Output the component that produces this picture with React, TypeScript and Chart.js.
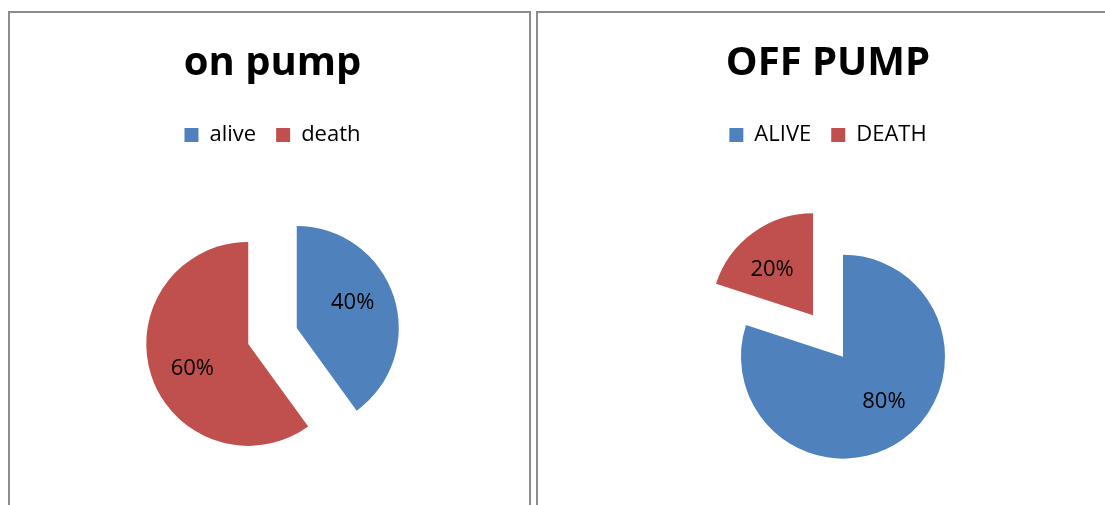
import React, { useEffect, useRef } from "react";
import { Chart, registerables } from "chart.js";

Chart.register(...registerables);

// Data
const onPumpLabels = ["alive", "death"];
const onPumpValues = [40, 60];
const offPumpLabels = ["ALIVE", "DEATH"];
const offPumpValues = [80, 20];
const sliceColors = ["#4F81BD", "#C0504D"];

const FONT = "'Open Sans', 'Noto Sans', sans-serif";
const RADIUS = 102;
const EXPLODE = 25.5; // distance each slice is pulled out of the pie

// Draws every slice pushed outward along its bisector by the same distance.
const explodedSlices = {
  id: "explodedSlices",
  beforeDatasetDraw(chart: any, args: any) {
    const { ctx } = chart;
    args.meta.data.forEach((arc: any) => {
      const mid = (arc.startAngle + arc.endAngle) / 2;
      ctx.save();
      ctx.translate(Math.cos(mid) * EXPLODE, Math.sin(mid) * EXPLODE);
      arc.draw(ctx, chart.chartArea);
      ctx.restore();
    });
    return false;
  },
};

// Percentage text inside each slice.
const percentLabels = {
  id: "percentLabels",
  afterDatasetsDraw(chart: any) {
    const { ctx } = chart;
    const meta = chart.getDatasetMeta(0);
    const values: number[] = chart.data.datasets[0].data;
    const total = values.reduce((a, b) => a + b, 0);
    ctx.save();
    ctx.font = `22px ${FONT}`;
    ctx.fillStyle = "#000";
    ctx.textAlign = "center";
    ctx.textBaseline = "middle";
    meta.data.forEach((arc: any, i: number) => {
      const mid = (arc.startAngle + arc.endAngle) / 2;
      const labelAngle = mid - (6 * Math.PI) / 180;
      const r = arc.outerRadius * 0.6;
      const lx = arc.x + Math.cos(mid) * EXPLODE + Math.cos(labelAngle) * r;
      const ly = arc.y + Math.sin(mid) * EXPLODE + Math.sin(labelAngle) * r;
      const pct = Math.round((values[i] / total) * 100);
      ctx.fillText(`${pct}%`, lx, ly);
    });
    ctx.restore();
  },
};

type PanelProps = {
  title: string;
  labels: string[];
  values: number[];
  left: number;
  width: number;
  canvasWidth: number;
  padLeft: number;
};

function PiePanel({ title, labels, values, left, width, canvasWidth, padLeft }: PanelProps) {
  const ref = useRef<HTMLCanvasElement | null>(null);

  useEffect(() => {
    if (!ref.current) return;
    const chart = new Chart(ref.current, {
      type: "pie",
      data: {
        labels,
        datasets: [
          {
            data: values,
            backgroundColor: sliceColors,
            borderWidth: 0,
          },
        ],
      },
      options: {
        responsive: false,
        animation: false,
        radius: RADIUS,
        layout: { padding: { left: padLeft, right: 0, top: 0, bottom: 17 } },
        plugins: {
          title: {
            display: true,
            text: title,
            color: "#000",
            font: { family: FONT, size: 40, weight: "bold" },
            padding: { top: 27, bottom: 16 },
          },
          legend: {
            position: "top",
            labels: {
              color: "#000",
              font: { family: FONT, size: 22 },
              boxWidth: 14,
              boxHeight: 14,
              padding: 20,
            },
          },
          tooltip: { enabled: false },
        },
      },
      plugins: [explodedSlices, percentLabels],
    });
    return () => chart.destroy();
  }, []);

  return (
    <>
      <div
        style={{
          position: "absolute",
          left,
          top: 11,
          width,
          height: 540,
          border: "2px solid #8c8c8c",
          boxSizing: "border-box",
        }}
      />
      <canvas
        ref={ref}
        width={canvasWidth}
        height={520}
        style={{ position: "absolute", left: left + 2, top: 13 }}
      />
    </>
  );
}

export default function App() {
  return (
    <div
      style={{
        position: "fixed",
        left: 0,
        top: 0,
        width: 1105,
        height: 505,
        overflow: "hidden",
        background: "#fff",
      }}
    >
      <PiePanel
        title="on pump"
        labels={onPumpLabels}
        values={onPumpValues}
        left={8}
        width={523}
        canvasWidth={519}
        padLeft={6}
      />
      <PiePanel
        title="OFF PUMP"
        labels={offPumpLabels}
        values={offPumpValues}
        left={536}
        width={600}
        canvasWidth={580}
        padLeft={0}
      />
    </div>
  );
}
